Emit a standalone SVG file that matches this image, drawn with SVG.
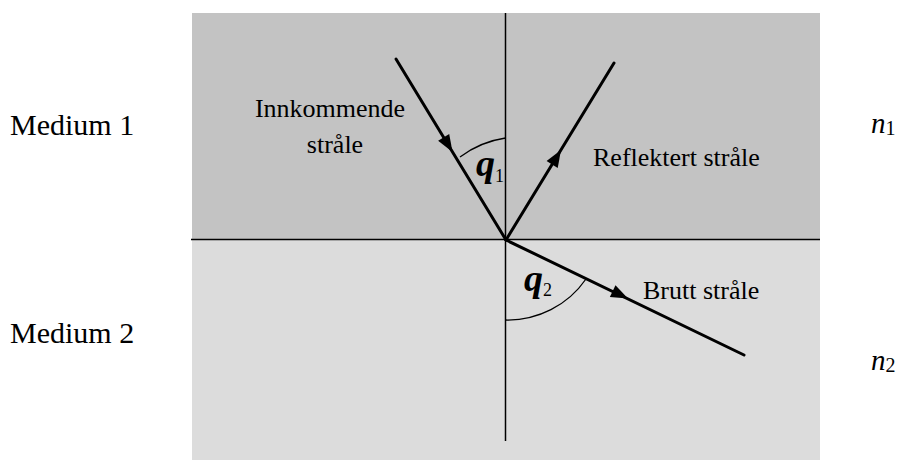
<svg xmlns="http://www.w3.org/2000/svg" width="901" height="460" viewBox="0 0 901 460">
<style>
text{font-family:"Liberation Serif","Times New Roman",serif;fill:#000}
.lbl{font-size:26px}
.med{font-size:30px}
.ray{stroke:#000;stroke-width:3;fill:none;stroke-linecap:round}
.thin{stroke:#000;stroke-width:1.5;fill:none}
.arc{stroke:#000;stroke-width:1.3;fill:none}
.ah{fill:#000}
.sym{font-size:38px;font-weight:bold;font-style:italic}
.n{font-size:29px;font-style:italic}
</style>
<rect x="192" y="13" width="628" height="227" fill="#c3c3c3"/>
<rect x="192" y="240" width="628" height="220" fill="#dcdcdc"/>
<g id="connectors">
<line class="thin" x1="191" y1="239.5" x2="820" y2="239.5" stroke-width="2"/>
<line class="thin" x1="505.5" y1="13" x2="505.5" y2="441"/>
<line class="ray" x1="396" y1="59" x2="506" y2="240"/>
<line class="ray" x1="506" y1="240" x2="614" y2="63"/>
<line class="ray" x1="506" y1="240" x2="744" y2="355"/>
<polygon class="ah" points="0,0 -17,-6.5 -17,6.5" transform="translate(452.5,152) rotate(58.7)"/>
<polygon class="ah" points="0,0 -17,-6.5 -17,6.5" transform="translate(561,150) rotate(-58.6)"/>
<polygon class="ah" points="0,0 -17,-6.5 -17,6.5" transform="translate(628,298.5) rotate(25.6)"/>
<path class="arc" d="M505.5,138 A100,100 0 0 0 460,157"/>
<path class="arc" d="M505.5,320 A95,95 0 0 0 586,279"/>
</g>
<g id="medium1"><text class="med" x="10" y="135">Medium 1</text></g>
<g id="medium2"><text class="med" x="10" y="343">Medium 2</text></g>
<g id="incoming"><text class="lbl" x="330" y="117" text-anchor="middle">Innkommende</text><text class="lbl" x="335" y="153" text-anchor="middle">stråle</text></g>
<g id="reflected"><text class="lbl" x="593" y="166">Reflektert stråle</text></g>
<g id="refracted"><text class="lbl" x="643" y="299">Brutt stråle</text></g>
<g id="theta1"><text class="sym" x="476" y="176">q<tspan font-size="18" font-weight="normal" font-style="normal" dy="6">1</tspan></text></g>
<g id="theta2"><text class="sym" x="524" y="291">q<tspan font-size="18" font-weight="normal" font-style="normal" dy="5">2</tspan></text></g>
<g id="n1"><text class="n" x="871" y="133">n<tspan font-size="20" font-style="normal" dy="2">1</tspan></text></g>
<g id="n2"><text class="n" x="871" y="370">n<tspan font-size="20" font-style="normal" dy="2">2</tspan></text></g>
</svg>
